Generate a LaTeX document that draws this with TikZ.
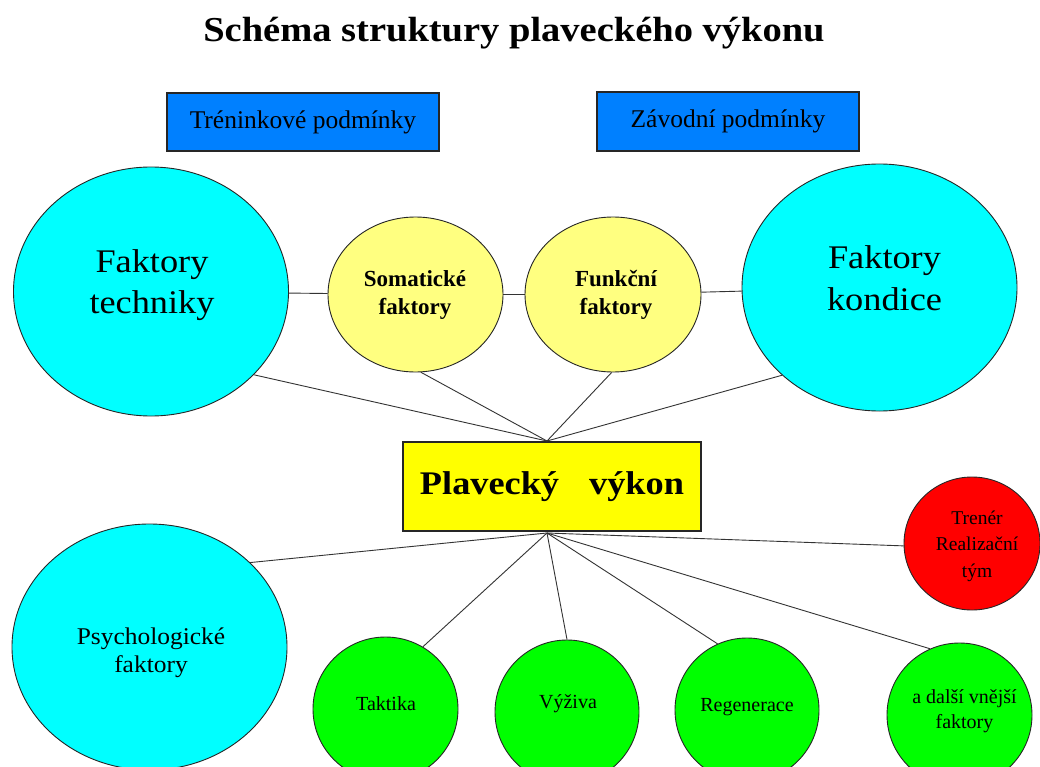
\documentclass[tikz,border=0pt]{standalone}
\usepackage{fontspec}
\setmainfont{Liberation Serif}
\newfontfamily\widefont{Liberation Serif}[FakeStretch=1.1]
\newfontfamily\midfont{Liberation Serif}[FakeStretch=1.06]
\usetikzlibrary{shapes.geometric}
\definecolor{boxblue}{RGB}{0,128,255}
\definecolor{cyanc}{RGB}{0,255,255}
\definecolor{lyellow}{RGB}{255,255,128}
\definecolor{yellowc}{RGB}{255,255,0}
\definecolor{greenc}{RGB}{0,255,0}
\definecolor{redc}{RGB}{255,0,0}
\begin{document}
\begin{tikzpicture}[x=1pt,y=-1pt,
  blob/.style={ellipse,draw=black!85,line width=0.9pt,inner sep=0pt},
  conn/.style={draw=black!80,line width=0.9pt},
  lbl/.style={align=center,inner sep=0pt,text=black},
  cbox/.style={rectangle,draw=black!85,line width=1.2pt,inner sep=0pt}]
\clip (0,0) rectangle (1040,767);
\fill[white] (0,0) rectangle (1040,767);

\node[lbl,anchor=base,font=\widefont\fontsize{35}{40}\bfseries\selectfont] (title) at (514,42) {Schéma struktury plaveckého výkonu};

\node[cbox,fill=boxblue,minimum width=272pt,minimum height=58pt,font=\fontsize{25.5}{30}\selectfont] (tren) at (303,122) {Tréninkové podmínky};
\node[cbox,fill=boxblue,minimum width=262pt,minimum height=59pt,font=\fontsize{25.5}{30}\selectfont] (zav) at (728,121.5) {Závodní podmínky};

\node[blob,fill=cyanc,minimum width=275pt,minimum height=249pt] (tech) at (151,291.5) {};
\node[blob,fill=lyellow,minimum width=175pt,minimum height=155pt] (soma) at (415.5,294.5) {};
\node[blob,fill=lyellow,minimum width=176pt,minimum height=155pt] (funk) at (613,294.5) {};
\node[blob,fill=cyanc,minimum width=275pt,minimum height=247pt] (kond) at (879.5,287.5) {};

\node[cbox,fill=yellowc,minimum width=298pt,minimum height=89pt,font=\widefont\fontsize{33}{38}\bfseries\selectfont] (pv) at (552,486.5) {Plavecký\hspace{21pt} výkon};

\node[blob,fill=redc,minimum width=136pt,minimum height=133pt] (trener) at (972,543.5) {};
\node[blob,fill=cyanc,minimum width=275pt,minimum height=246pt] (psych) at (149.5,647) {};
\node[blob,fill=greenc,minimum width=145pt,minimum height=144pt] (takt) at (385.5,709) {};
\node[blob,fill=greenc,minimum width=144pt,minimum height=144pt] (vyz) at (567,712) {};
\node[blob,fill=greenc,minimum width=144pt,minimum height=144pt] (reg) at (747,710) {};
\node[blob,fill=greenc,minimum width=145pt,minimum height=144pt] (dal) at (959.5,715) {};

\node[lbl,font=\widefont\fontsize{33}{40.6}\selectfont] (techt) at (152,285.4) {Faktory\\techniky};
\node[lbl,font=\widefont\fontsize{33}{42.4}\selectfont] (kondt) at (884.5,278.4) {Faktory\\kondice};
\node[lbl,font=\fontsize{23}{28}\bfseries\selectfont] (somat) at (415,295) {Somatické\\faktory};
\node[lbl,font=\fontsize{23}{28}\bfseries\selectfont] (funkt) at (616,295) {Funkční\\faktory};
\node[lbl,font=\midfont\fontsize{24}{28}\selectfont] (psycht) at (151,652.5) {Psychologické\\faktory};
\node[lbl,anchor=base,font=\fontsize{20}{24}\selectfont] (taktt) at (386,710) {Taktika};
\node[lbl,anchor=base,font=\fontsize{20}{24}\selectfont] (vyzt) at (568,708) {Výživa};
\node[lbl,anchor=base,font=\fontsize{20}{24}\selectfont] (regt) at (747,711) {Regenerace};
\node[lbl,font=\fontsize{20}{25}\selectfont] (dalt) at (964.5,711) {a další vnější\\faktory};
\node[lbl,font=\fontsize{19.5}{26.5}\selectfont] (trent) at (977,546) {Trenér\\Realizační\\tým};

\coordinate (top) at (547,441);
\coordinate (bot) at (547,533);

\draw[conn] (tech) -- (soma);
\draw[conn] (soma) -- (funk);
\draw[conn] (funk) -- (kond);
\draw[conn] (tech.-39) -- (top);
\draw[conn] (soma.-86) -- (top);
\draw[conn] (funk.-91) -- (top);
\draw[conn] (kond.-138) -- (top);
\draw[conn] (bot) -- (psych.40);
\draw[conn] (bot) -- (takt.59);
\draw[conn] (bot) -- (vyz.90);
\draw[conn] (bot) -- (reg.114);
\draw[conn] (bot) -- (dal.114);
\draw[conn] (bot) -- (trener.182);
\end{tikzpicture}
\end{document}
